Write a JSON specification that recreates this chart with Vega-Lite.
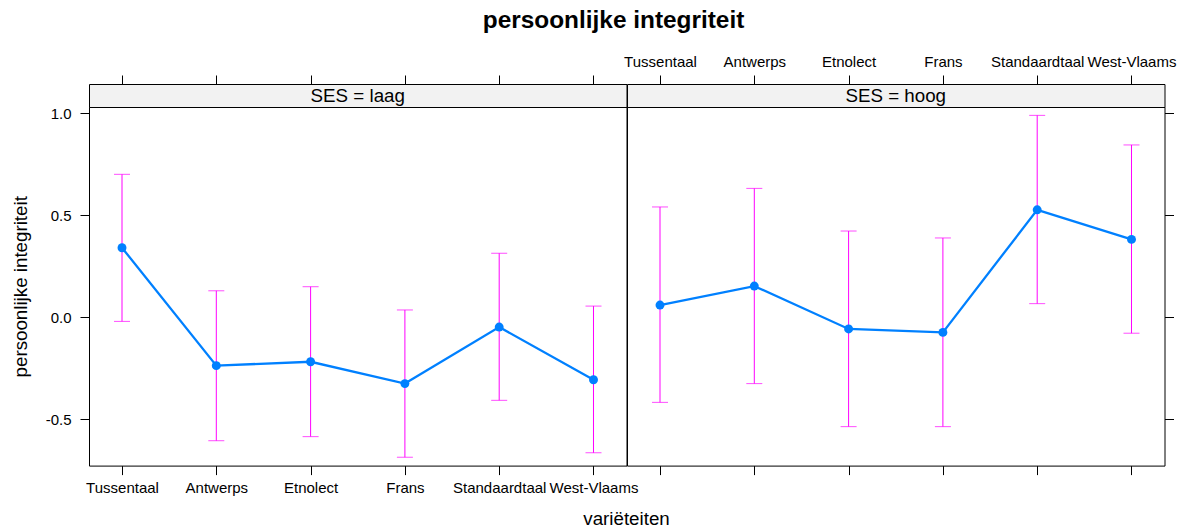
{
  "$schema": "https://vega.github.io/schema/vega-lite/v6.json",
  "background": "white",
  "padding": {"left": 10, "top": 8, "right": 5, "bottom": 5},
  "title": {"text": "persoonlijke integriteit", "fontSize": 24.4, "fontWeight": "bold", "font": "Liberation Sans", "color": "black", "anchor": "middle", "offset": 20, "dx": 20},
  "config": {
    "font": "Liberation Sans",
    "view": {"stroke": "black", "strokeWidth": 1},
    "axis": {"domain": false, "grid": false, "ticks": true, "tickSize": 9, "tickColor": "black", "tickWidth": 1, "labelColor": "black", "labelFontSize": 15, "labelFont": "Liberation Sans", "titleFont": "Liberation Sans", "titleFontSize": 18.75, "titleFontWeight": "normal", "titleColor": "black", "labelOverlap": false, "labelFlush": false},
    "concat": {"spacing": 0}
  },
  "datasets": {
    "laag": [
      {"v": "Tussentaal", "fit": 0.341, "lower": -0.020, "upper": 0.701},
      {"v": "Antwerps", "fit": -0.237, "lower": -0.605, "upper": 0.130},
      {"v": "Etnolect", "fit": -0.218, "lower": -0.585, "upper": 0.150},
      {"v": "Frans", "fit": -0.325, "lower": -0.686, "upper": 0.036},
      {"v": "Standaardtaal", "fit": -0.048, "lower": -0.407, "upper": 0.314},
      {"v": "West-Vlaams", "fit": -0.306, "lower": -0.664, "upper": 0.055}
    ],
    "hoog": [
      {"v": "Tussentaal", "fit": 0.060, "lower": -0.417, "upper": 0.541},
      {"v": "Antwerps", "fit": 0.153, "lower": -0.325, "upper": 0.632},
      {"v": "Etnolect", "fit": -0.057, "lower": -0.536, "upper": 0.423},
      {"v": "Frans", "fit": -0.074, "lower": -0.536, "upper": 0.389},
      {"v": "Standaardtaal", "fit": 0.527, "lower": 0.067, "upper": 0.990},
      {"v": "West-Vlaams", "fit": 0.382, "lower": -0.078, "upper": 0.845}
    ]
  },
  "vconcat": [
    {
      "columns": 2,
      "spacing": 0,
      "bounds": "flush",
      "concat": [
        {
          "width": 537.5, "height": 23,
          "view": {"fill": "#f2f2f2"},
          "layer": [
            {
              "data": {"name": "laag"},
              "mark": {"type": "rule", "opacity": 0},
              "encoding": {
                "x": {"field": "v", "type": "nominal", "sort": ["Tussentaal", "Antwerps", "Etnolect", "Frans", "Standaardtaal", "West-Vlaams"], "scale": {"type": "point", "padding": 0.35}, "axis": {"orient": "top", "labels": false, "title": null}}
              }
            },
            {
              "data": {"values": [{"s": "SES = laag"}]},
              "mark": {"type": "text", "fontSize": 18.75, "color": "black", "baseline": "middle", "align": "center"},
              "encoding": {"text": {"field": "s", "type": "nominal"}}
            }
          ]
        },
        {
          "width": 537.5, "height": 23,
          "view": {"fill": "#f2f2f2"},
          "layer": [
            {
              "data": {"name": "hoog"},
              "mark": {"type": "rule", "opacity": 0},
              "encoding": {
                "x": {"field": "v", "type": "nominal", "sort": ["Tussentaal", "Antwerps", "Etnolect", "Frans", "Standaardtaal", "West-Vlaams"], "scale": {"type": "point", "padding": 0.35}, "axis": {"orient": "top", "labels": true, "labelAngle": 0, "labelPadding": 6, "title": null}}
              }
            },
            {
              "data": {"values": [{"s": "SES = hoog"}]},
              "mark": {"type": "text", "fontSize": 18.75, "color": "black", "baseline": "middle", "align": "center"},
              "encoding": {"text": {"field": "s", "type": "nominal"}}
            }
          ]
        },
        {
          "width": 537.5, "height": 358.6,
          "data": {"name": "laag"},
          "encoding": {
            "x": {"field": "v", "type": "nominal", "sort": ["Tussentaal", "Antwerps", "Etnolect", "Frans", "Standaardtaal", "West-Vlaams"], "scale": {"type": "point", "padding": 0.35}, "axis": {"orient": "bottom", "labelAngle": 0, "labelPadding": 6, "title": null}}
          },
          "layer": [
            {
              "mark": {"type": "rule", "color": "#ff00ff", "strokeWidth": 1},
              "encoding": {
                "y": {"field": "lower", "type": "quantitative", "scale": {"domain": [-0.727, 1.031], "nice": false, "zero": false}, "axis": {"orient": "left", "values": [-0.5, 0, 0.5, 1], "labelExpr": "replace(format(datum.value, '.1f'), '\u2212', '-')", "labelPadding": 9, "title": "persoonlijke integriteit", "titlePadding": 15}},
                "y2": {"field": "upper"}
              }
            },
            {
              "mark": {"type": "tick", "color": "#ff00ff", "size": 16, "thickness": 1, "orient": "horizontal"},
              "encoding": {"y": {"field": "lower", "type": "quantitative", "title": "persoonlijke integriteit"}}
            },
            {
              "mark": {"type": "tick", "color": "#ff00ff", "size": 16, "thickness": 1, "orient": "horizontal"},
              "encoding": {"y": {"field": "upper", "type": "quantitative", "title": "persoonlijke integriteit"}}
            },
            {
              "mark": {"type": "line", "color": "#0080ff", "strokeWidth": 2.3},
              "encoding": {"y": {"field": "fit", "type": "quantitative", "title": "persoonlijke integriteit"}, "order": {"value": null}}
            },
            {
              "mark": {"type": "point", "filled": true, "color": "#0080ff", "size": 80, "opacity": 1},
              "encoding": {"y": {"field": "fit", "type": "quantitative", "title": "persoonlijke integriteit"}}
            }
          ]
        },
        {
          "width": 537.5, "height": 358.6,
          "data": {"name": "hoog"},
          "encoding": {
            "x": {"field": "v", "type": "nominal", "sort": ["Tussentaal", "Antwerps", "Etnolect", "Frans", "Standaardtaal", "West-Vlaams"], "scale": {"type": "point", "padding": 0.35}, "axis": {"orient": "bottom", "labels": false, "title": null}}
          },
          "layer": [
            {
              "mark": {"type": "rule", "color": "#ff00ff", "strokeWidth": 1},
              "encoding": {
                "y": {"field": "lower", "type": "quantitative", "scale": {"domain": [-0.727, 1.031], "nice": false, "zero": false}, "axis": {"orient": "right", "values": [-0.5, 0, 0.5, 1], "labels": false, "title": null}},
                "y2": {"field": "upper"}
              }
            },
            {
              "mark": {"type": "tick", "color": "#ff00ff", "size": 16, "thickness": 1, "orient": "horizontal"},
              "encoding": {"y": {"field": "lower", "type": "quantitative", "title": null}}
            },
            {
              "mark": {"type": "tick", "color": "#ff00ff", "size": 16, "thickness": 1, "orient": "horizontal"},
              "encoding": {"y": {"field": "upper", "type": "quantitative", "title": null}}
            },
            {
              "mark": {"type": "line", "color": "#0080ff", "strokeWidth": 2.3},
              "encoding": {"y": {"field": "fit", "type": "quantitative", "title": null}, "order": {"value": null}}
            },
            {
              "mark": {"type": "point", "filled": true, "color": "#0080ff", "size": 80, "opacity": 1},
              "encoding": {"y": {"field": "fit", "type": "quantitative", "title": null}}
            }
          ]
        }
      ]
    },
    {
      "width": 1075, "height": 44,
      "view": {"stroke": null, "fill": null},
      "data": {"values": [{"t": "variëteiten"}]},
      "mark": {"type": "text", "fontSize": 18.75, "color": "black", "baseline": "middle", "align": "center"},
      "encoding": {"text": {"field": "t", "type": "nominal"}}
    }
  ]
}
